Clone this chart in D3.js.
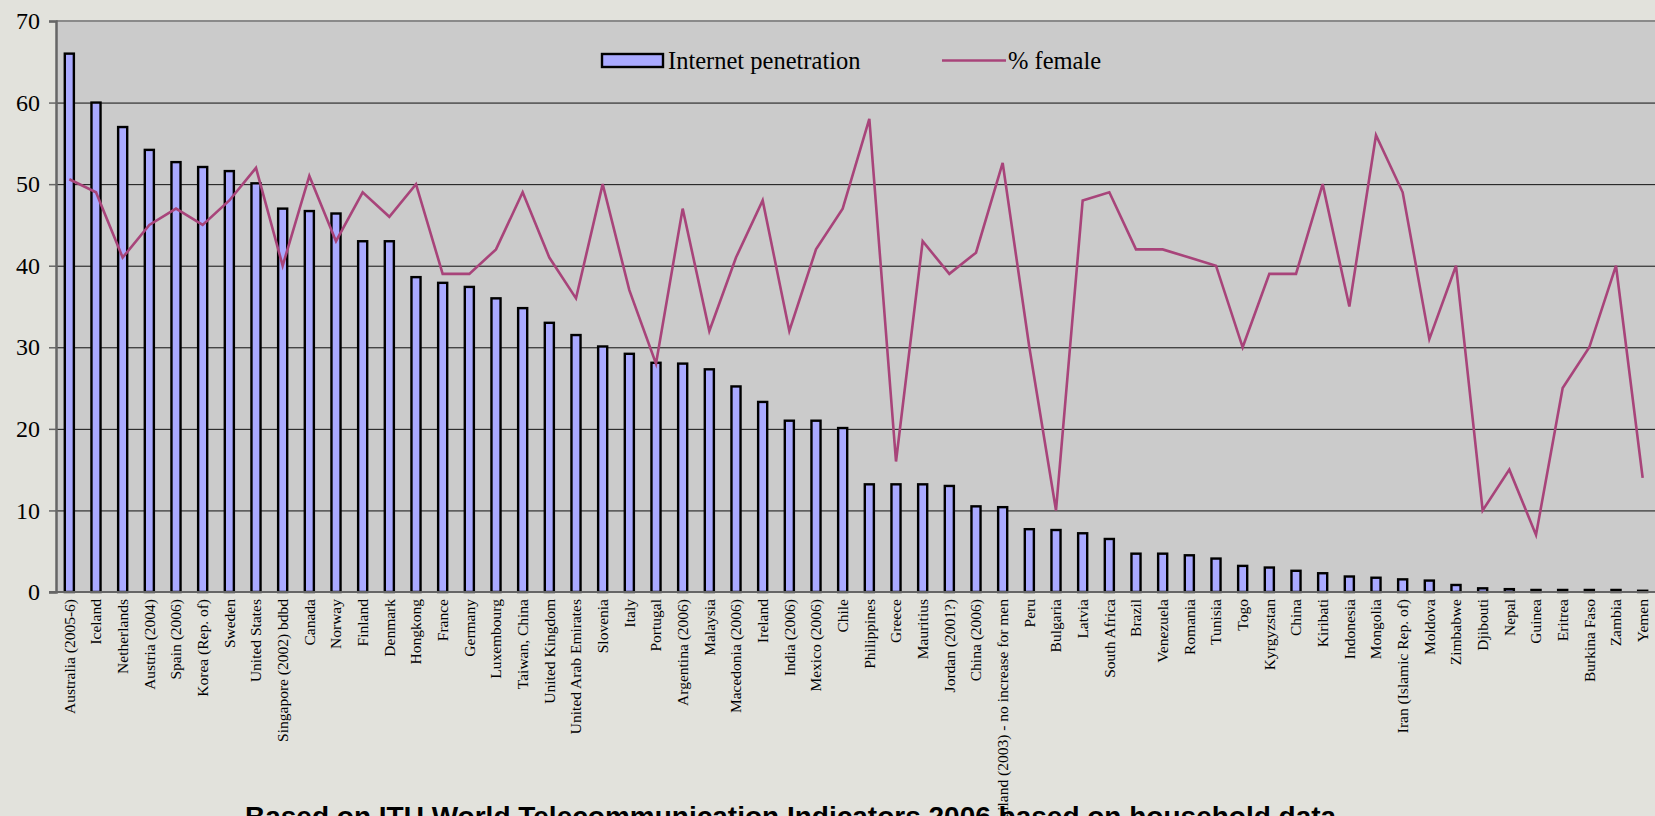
<!DOCTYPE html>
<html>
<head>
<meta charset="utf-8">
<script src="https://cdn.jsdelivr.net/npm/d3@7"></script>
<style>
  html, body { margin: 0; padding: 0; background: #e2e2dc; overflow: hidden; }
  svg { display: block; }
</style>
</head>
<body>
<div class="container"></div>
<script>
// Chart data
const countries = [
  "Australia (2005-6)", "Iceland", "Netherlands", "Austria (2004)", "Spain (2006)",
  "Korea (Rep. of)", "Sweden", "United States", "Singapore (2002) bdbd", "Canada",
  "Norway", "Finland", "Denmark", "Hongkong", "France",
  "Germany", "Luxembourg", "Taiwan, China", "United Kingdom", "United Arab Emirates",
  "Slovenia", "Italy", "Portugal", "Argentina (2006)", "Malaysia",
  "Macedonia (2006)", "Ireland", "India (2006)", "Mexico (2006)", "Chile",
  "Philippines", "Greece", "Mauritius", "Jordan (2001?)", "China (2006)",
  "Thailand (2003) - no increase for men", "Peru", "Bulgaria", "Latvia", "South Africa",
  "Brazil", "Venezuela", "Romania", "Tunisia", "Togo",
  "Kyrgyzstan", "China", "Kiribati", "Indonesia", "Mongolia",
  "Iran (Islamic Rep. of)", "Moldova", "Zimbabwe", "Djibouti", "Nepal",
  "Guinea", "Eritrea", "Burkina Faso", "Zambia", "Yemen"
];

const penetration = [
  66, 60, 57, 54.2, 52.7,
  52.1, 51.6, 50.1, 47, 46.7,
  46.4, 43, 43, 38.6, 37.9,
  37.4, 36, 34.8, 33, 31.5,
  30.1, 29.2, 28.1, 28, 27.3,
  25.2, 23.3, 21, 21, 20.1,
  13.2, 13.2, 13.2, 13, 10.5,
  10.4, 7.7, 7.6, 7.2, 6.5,
  4.7, 4.7, 4.5, 4.1, 3.2,
  3, 2.6, 2.3, 1.9, 1.75,
  1.55, 1.4, 0.86, 0.45, 0.35,
  0.25, 0.25, 0.25, 0.25, 0.15
];

const female = [
  50.6, 49, 41, 45, 47,
  45, 48, 52, 40, 51,
  43, 49, 46, 50, 39,
  39, 42, 49, 41, 36,
  50, 37, 28, 47, 32,
  41, 48, 32, 42, 47,
  58, 16, 43, 39, 41.6,
  52.6, 30, 10, 48, 49,
  42, 42, 41, 40, 30,
  39, 39, 50, 35, 56,
  49, 31, 40, 10, 15,
  7, 25, 30, 40, 14
];

const yTicks = [0, 10, 20, 30, 40, 50, 60, 70];
const seriesNames = ["Internet penetration", "% female"];
const sourceNote = "Based on ITU World Telecommunication Indicators 2006 based on household data";

const width = 1655;
const height = 816;
const margin = { top: 21, left: 56, bottom: 224 };
const plotRight = 1656;

const serif = "'Liberation Serif', 'Times New Roman', serif";
const barFill = "#aaaaff";
const lineColor = "#a8447a";
const plotBg = "#cbcbcb";

const svg = d3.select(".container").append("svg")
    .attr("width", width)
    .attr("height", height);

const x = d3.scaleBand()
    .domain(countries)
    .range([margin.left, plotRight])
    .padding(0);

const y = d3.scaleLinear()
    .domain([0, 70])
    .range([height - margin.bottom, margin.top]);

// plot area
svg.append("rect")
    .attr("x", margin.left)
    .attr("y", y(70))
    .attr("width", width - margin.left)
    .attr("height", y(0) - y(70))
    .attr("fill", plotBg);

// top border of plot
svg.append("line")
    .attr("x1", margin.left).attr("x2", width)
    .attr("y1", y(70)).attr("y2", y(70))
    .attr("stroke", "#8a8a8a")
    .attr("stroke-width", 2);

// gridlines
svg.append("g")
    .selectAll("line")
    .data(yTicks.filter(d => d > 0 && d < 70))
    .enter().append("line")
    .attr("x1", margin.left)
    .attr("x2", width)
    .attr("y1", d => y(d) + 0.5)
    .attr("y2", d => y(d) + 0.5)
    .attr("stroke", "#111")
    .attr("stroke-width", 1);

// bars
const barW = x.bandwidth() * 0.34;
svg.append("g")
    .selectAll("rect")
    .data(countries)
    .enter().append("rect")
    .attr("x", d => x(d) + x.bandwidth() / 2 - barW / 2)
    .attr("y", (d, i) => y(penetration[i]))
    .attr("width", barW)
    .attr("height", (d, i) => y(0) - y(penetration[i]))
    .attr("fill", barFill)
    .attr("stroke", "#000")
    .attr("stroke-width", 2.4);

// % female line
const line = d3.line()
    .x((d, i) => x(countries[i]) + x.bandwidth() / 2)
    .y(d => y(d));

svg.append("path")
    .datum(female)
    .attr("d", line)
    .attr("fill", "none")
    .attr("stroke", lineColor)
    .attr("stroke-width", 2.6)
    .attr("stroke-linejoin", "miter");

// y axis
const yAxis = svg.append("g")
    .attr("transform", `translate(${margin.left},0)`)
    .call(d3.axisLeft(y).tickValues(yTicks).tickSize(7).tickPadding(9));
yAxis.attr("font-family", serif).attr("font-size", 24);
yAxis.select(".domain").attr("stroke", "#666").attr("stroke-width", 2.5);
yAxis.selectAll(".tick line").attr("stroke", "#666").attr("stroke-width", 1.5);
yAxis.selectAll("text").style("font-family", serif).attr("fill", "#000");

// x axis line
svg.append("line")
    .attr("x1", margin.left - 7).attr("x2", width)
    .attr("y1", y(0)).attr("y2", y(0))
    .attr("stroke", "#666")
    .attr("stroke-width", 2);

// x labels, rotated
svg.append("g")
    .selectAll("text")
    .data(countries)
    .enter().append("text")
    .attr("transform", d => `translate(${x(d) + x.bandwidth() / 2},${y(0) + 7}) rotate(-90)`)
    .attr("dy", "0.35em")
    .attr("text-anchor", "end")
    .style("font-family", serif)
    .attr("font-size", 15.5)
    .attr("fill", "#000")
    .text(d => d);

// legend
const legend = svg.append("g")
    .style("font-family", serif)
    .attr("font-size", 24.5)
    .attr("fill", "#000");

legend.append("rect")
    .attr("x", 602).attr("y", 54)
    .attr("width", 61).attr("height", 13)
    .attr("fill", barFill)
    .attr("stroke", "#000")
    .attr("stroke-width", 2.4);
legend.append("text")
    .attr("x", 668).attr("y", 69)
    .text(seriesNames[0]);

legend.append("line")
    .attr("x1", 942).attr("x2", 1006)
    .attr("y1", 60.5).attr("y2", 60.5)
    .attr("stroke", lineColor)
    .attr("stroke-width", 2.6);
legend.append("text")
    .attr("x", 1008).attr("y", 69)
    .text(seriesNames[1]);

// source note (cut off at the bottom edge, as in the original)
svg.append("text")
    .attr("x", 245)
    .attr("y", 826)
    .style("font-family", "'Liberation Sans', Arial, sans-serif")
    .attr("font-weight", "bold")
    .attr("font-size", 28)
    .attr("fill", "#000")
    .text(sourceNote);
</script>
</body>
</html>
